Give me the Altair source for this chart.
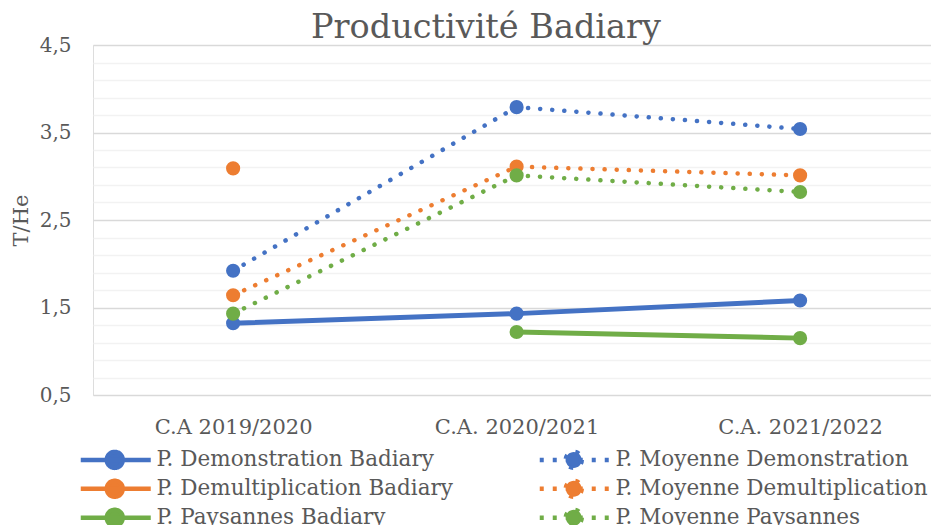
import altair as alt
import pandas as pd

# ---- data ----
years = ["C.A 2019/2020", "C.A. 2020/2021", "C.A. 2021/2022"]
badiary_names = [
    "P. Demonstration Badiary",
    "P. Demultiplication Badiary",
    "P. Paysannes Badiary",
]
moyenne_names = [
    "P. Moyenne Demonstration",
    "P. Moyenne Demultiplication",
    "P. Moyenne Paysannes",
]
series_names = badiary_names + moyenne_names
demo_badiary = [1.32, 1.43, 1.58]
demult_badiary = [3.09, None, None]
pays_badiary = [None, 1.22, 1.15]
moy_demo = [1.92, 3.79, 3.54]
moy_demult = [1.64, 3.11, 3.01]
moy_pays = [1.43, 3.01, 2.82]

series_values = [demo_badiary, demult_badiary, pays_badiary, moy_demo, moy_demult, moy_pays]

rows = []
for name, vals in zip(series_names, series_values):
    for yr, v in zip(years, vals):
        if v is not None:
            rows.append({"series": name, "year": yr, "value": v})
df = pd.DataFrame(rows)

# ---- styles ----
FONT = "DejaVu Serif"
GREY = "#595959"
colors = ["#4472C4", "#ED7D31", "#70AD47", "#4472C4", "#ED7D31", "#70AD47"]
legend_dashes = [[1, 0], [1, 0], [1, 0], [4, 9], [4, 9], [4, 9]]
grid_values = [round(0.5 + 0.2 * i, 1) for i in range(21)]
major_test = "round(datum.value*10)%10==5"

legend_symbol = ("M-12.4,0L1.6,0"
                 "M-4.0,0A1.6,1.6,0,1,1,-7.2,0A1.6,1.6,0,1,1,-4.0,0Z")

legend = alt.Legend(
    title=None, orient="none", legendX=39, legendY=404,
    columns=2, columnPadding=77, rowPadding=-6,
    symbolType=legend_symbol, symbolSize=100, symbolStrokeWidth=4.5,
    labelFont=FONT, labelFontSize=21.5, labelColor=GREY, labelOffset=3,
    labelLimit=500,
)

x_enc = alt.X(
    "year:N", sort=years,
    scale=alt.Scale(type="point", padding=0.478, align=0.517),
    axis=alt.Axis(title=None, labelAngle=0, labelFont=FONT, labelFontSize=21,
                  labelColor=GREY, labelPadding=21, ticks=False, domain=False,
                  grid=False),
)
y_enc = alt.Y(
    "value:Q",
    scale=alt.Scale(domain=[0.5, 4.5], nice=False, zero=False),
    axis=alt.Axis(
        values=grid_values, title="T/He", titleFont=FONT, titleFontSize=21,
        titleFontWeight="normal", titleColor=GREY, titlePadding=8,
        labelExpr=major_test + " ? replace(format(datum.value,'.1f'),'.',',') : ''",
        labelFont=FONT, labelFontSize=20, labelColor=GREY, labelPadding=22,
        labelOverlap=False, labelFlush=False,
        ticks=False, domain=False, grid=True,
        gridColor={"condition": {"test": major_test, "value": "#D9D9D9"}, "value": "#F2F2F2"},
        gridWidth=1.5,
    ),
)
color_enc = alt.Color("series:N", scale=alt.Scale(domain=series_names, range=colors), legend=legend)
dash_enc = alt.StrokeDash("series:N", scale=alt.Scale(domain=series_names, range=legend_dashes), legend=legend)

base = alt.Chart(df)
solid_lines = base.transform_filter(
    alt.FieldOneOfPredicate(field="series", oneOf=badiary_names)
).mark_line(strokeWidth=5, strokeCap="round").encode(x=x_enc, y=y_enc, color=color_enc)
dotted_lines = base.transform_filter(
    alt.FieldOneOfPredicate(field="series", oneOf=moyenne_names)
).mark_line(strokeWidth=4.5, strokeCap="round", strokeDash=[0.1, 12]).encode(
    x=x_enc, y=y_enc, color=color_enc)
points = base.mark_point(filled=True, size=200, opacity=1).encode(
    x=x_enc, y=y_enc, color=color_enc, strokeDash=dash_enc,
)

chart = alt.layer(solid_lines, dotted_lines, points).properties(
    width=838, height=350,
    title=alt.TitleParams("Productivité Badiary", font=FONT, fontSize=33.5, color=GREY,
                          fontWeight="normal", anchor="middle", dx=-26, dy=11, offset=1),
    autosize=alt.AutoSizeParams(type="none"),
    padding={"left": 85, "top": 37, "right": 0, "bottom": 130},
).configure_view(stroke=None).configure(background="white")

chart.save("out.html", embed_options={"renderer": "svg", "actions": False})
